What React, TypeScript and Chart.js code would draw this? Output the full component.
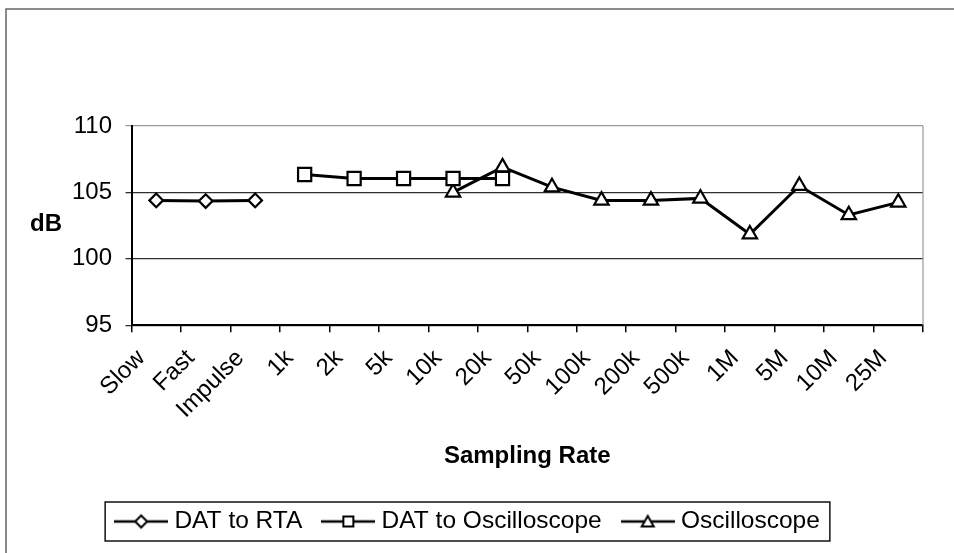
import React, { useEffect, useRef } from "react";
import { Chart, registerables } from "chart.js";

Chart.register(...registerables);

const categories = ["Slow", "Fast", "Impulse", "1k", "2k", "5k", "10k", "20k", "50k", "100k", "200k", "500k", "1M", "5M", "10M", "25M"];
const datToRta = [104.4, 104.35, 104.4, null, null, null, null, null, null, null, null, null, null, null, null, null];
const datToOscilloscope = [null, null, null, 106.35, 106.05, 106.05, 106.05, 106.05, null, null, null, null, null, null, null, null];
const oscilloscope = [null, null, null, null, null, null, 105.0, 106.9, 105.4, 104.4, 104.4, 104.55, 101.85, 105.5, 103.3, 104.25];
const seriesLabels = ["DAT to RTA", "DAT to Oscilloscope", "Oscilloscope"];
const yMin = 95;
const yMax = 110;
const yStep = 5;

const FONT = "'Liberation Sans', Arial, Helvetica, sans-serif";

function makeLegendSymbol(kind: string): HTMLCanvasElement {
  const c = document.createElement("canvas");
  c.width = 54;
  c.height = 20;
  const ctx = c.getContext("2d")!;
  ctx.strokeStyle = "#000";
  ctx.lineWidth = 2.5;
  ctx.beginPath();
  ctx.moveTo(0, 10);
  ctx.lineTo(54, 10);
  ctx.stroke();
  ctx.fillStyle = "#fff";
  ctx.lineWidth = 2;
  ctx.beginPath();
  if (kind === "square") {
    ctx.rect(22, 5, 10, 10);
  } else if (kind === "diamond") {
    ctx.moveTo(27, 4);
    ctx.lineTo(33, 10);
    ctx.lineTo(27, 16);
    ctx.lineTo(21, 10);
    ctx.closePath();
  } else {
    ctx.moveTo(27, 4.5);
    ctx.lineTo(33, 15);
    ctx.lineTo(21, 15);
    ctx.closePath();
  }
  ctx.fill();
  ctx.stroke();
  return c;
}

export default function App() {
  const ref = useRef<HTMLCanvasElement | null>(null);

  useEffect(() => {
    if (!ref.current) return;
    const symbols = [makeLegendSymbol("diamond"), makeLegendSymbol("square"), makeLegendSymbol("triangle")];

    const decor = {
      id: "decor",
      beforeDraw(chart: any) {
        const ctx = chart.ctx;
        ctx.save();
        ctx.fillStyle = "#fff";
        ctx.fillRect(0, 0, chart.width, chart.height);
        ctx.strokeStyle = "#666";
        ctx.lineWidth = 1.5;
        ctx.beginPath();
        ctx.moveTo(6, chart.height);
        ctx.lineTo(6, 9);
        ctx.lineTo(chart.width, 9);
        ctx.stroke();
        ctx.restore();
      },
      beforeDatasetsDraw(chart: any) {
        const ctx = chart.ctx;
        const a = chart.chartArea;
        ctx.save();
        ctx.strokeStyle = "#9a9a9a";
        ctx.lineWidth = 1.2;
        ctx.beginPath();
        ctx.moveTo(a.right, a.top);
        ctx.lineTo(a.right, a.bottom);
        ctx.stroke();
        ctx.restore();
      },
      afterDraw(chart: any) {
        const ctx = chart.ctx;
        const a = chart.chartArea;
        ctx.save();
        ctx.fillStyle = "#000";
        ctx.font = `bold 24px ${FONT}`;
        ctx.textAlign = "center";
        ctx.textBaseline = "middle";
        ctx.fillText("dB", 46, (a.top + a.bottom) / 2 - 1);
        const lg = chart.legend;
        const hb = lg && lg.legendHitBoxes;
        if (hb && hb.length) {
          const first = hb[0];
          const last = hb[hb.length - 1];
          const left = first.left - 15;
          const right = last.left + last.width + 10;
          const cy = first.top + first.height / 2;
          ctx.strokeStyle = "#111";
          ctx.lineWidth = 1.5;
          ctx.strokeRect(left, cy - 19.5, right - left, 39);
        }
        ctx.restore();
      },
    };

    const mk = (label: string, data: (number | null)[], style: string, r: number) => ({
      label,
      data,
      borderColor: "#000",
      backgroundColor: "#fff",
      borderWidth: 3,
      pointStyle: style,
      pointRadius: r,
      pointHoverRadius: r,
      pointBorderWidth: 2.2,
      pointBackgroundColor: "#fff",
      pointBorderColor: "#000",
      spanGaps: false,
      tension: 0,
      fill: false,
    });

    const chart = new Chart(ref.current, {
      type: "line",
      data: {
        labels: categories,
        datasets: [
          mk(seriesLabels[0], datToRta, "rectRot", 6.8),
          mk(seriesLabels[1], datToOscilloscope, "rect", 9.3),
          mk(seriesLabels[2], oscilloscope, "triangle", 8.3),
        ],
      },
      plugins: [decor],
      options: {
        animation: false,
        responsive: false,
        devicePixelRatio: 1,
        events: [],
        layout: { padding: { top: 126, left: 17, right: 31, bottom: 9.25 } },
        plugins: {
          tooltip: { enabled: false },
          title: { display: false },
          legend: {
            display: true,
            position: "bottom",
            labels: {
              usePointStyle: true,
              pointStyleWidth: 42,
              padding: 25,
              color: "#000",
              font: { family: FONT, size: 24.5 },
              generateLabels: (c: any) =>
                c.data.datasets.map((ds: any, i: number) => ({
                  text: ds.label,
                  fillStyle: "#fff",
                  strokeStyle: "#000",
                  lineWidth: 0,
                  pointStyle: symbols[i],
                  datasetIndex: i,
                  hidden: false,
                  fontColor: "#000",
                })),
            },
          },
        },
        scales: {
          x: {
            type: "category",
            offset: true,
            afterFit: (s: any) => {
              s.height = 159;
            },
            grid: {
              offset: true,
              drawOnChartArea: false,
              drawTicks: true,
              tickLength: 7,
              color: "#000",
              lineWidth: 1.5,
            },
            border: { display: true, color: "#000", width: 2 },
            ticks: {
              autoSkip: false,
              maxRotation: 45,
              minRotation: 45,
              labelOffset: -15,
              padding: 12,
              color: "#000",
              font: { family: FONT, size: 24 },
            },
            title: {
              display: true,
              text: "Sampling Rate",
              color: "#000",
              font: { family: FONT, size: 24, weight: "bold" },
              padding: { top: 0, bottom: 13 },
            },
          },
          y: {
            min: yMin,
            max: yMax,
            afterFit: (s: any) => {
              s.width = 114.5;
            },
            ticks: {
              stepSize: yStep,
              padding: 13.5,
              color: "#000",
              font: { family: FONT, size: 24 },
            },
            grid: {
              drawTicks: true,
              tickLength: 6,
              lineWidth: 1.3,
              color: (ctx: any) => (ctx.tick && ctx.tick.value === yMax ? "#9a9a9a" : "#303030"),
            },
            border: { display: true, color: "#000", width: 2 },
          },
        },
      },
    } as any);

    return () => chart.destroy();
  }, []);

  return (
    <div style={{ position: "fixed", left: 0, top: 0, width: 954, height: 553, background: "#fff" }}>
      <canvas ref={ref} width={954} height={553} style={{ display: "block" }} />
    </div>
  );
}
